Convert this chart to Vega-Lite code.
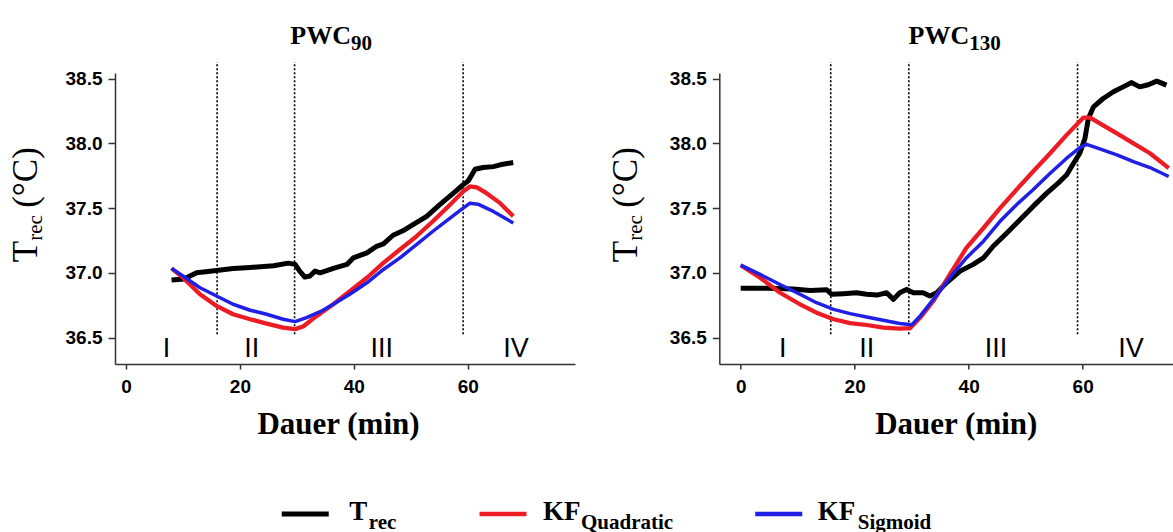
{
"$schema":"https://vega.github.io/schema/vega-lite/v6.json",
"autosize":{"type":"pad"},
"padding":{"left":9,"top":22,"right":0,"bottom":0},
"background":"white",
"spacing":54,
"datasets":{
"lines":[
{"panel":"PWC90","series":"T_rec","t":8.0,"temp":36.944},{"panel":"PWC90","series":"T_rec","t":9.8,"temp":36.95},{"panel":"PWC90","series":"T_rec","t":10.9,"temp":36.967},{"panel":"PWC90","series":"T_rec","t":12.4,"temp":37.0},{"panel":"PWC90","series":"T_rec","t":14.0,"temp":37.008},{"panel":"PWC90","series":"T_rec","t":15.9,"temp":37.018},{"panel":"PWC90","series":"T_rec","t":18.8,"temp":37.034},{"panel":"PWC90","series":"T_rec","t":21.8,"temp":37.041},{"panel":"PWC90","series":"T_rec","t":25.9,"temp":37.054},{"panel":"PWC90","series":"T_rec","t":28.5,"temp":37.075},{"panel":"PWC90","series":"T_rec","t":29.7,"temp":37.065},{"panel":"PWC90","series":"T_rec","t":30.5,"temp":37.013},{"panel":"PWC90","series":"T_rec","t":31.4,"temp":36.967},{"panel":"PWC90","series":"T_rec","t":32.3,"temp":36.975},{"panel":"PWC90","series":"T_rec","t":33.2,"temp":37.013},{"panel":"PWC90","series":"T_rec","t":34.1,"temp":37.0},{"panel":"PWC90","series":"T_rec","t":36.4,"temp":37.034},{"panel":"PWC90","series":"T_rec","t":38.8,"temp":37.065},{"panel":"PWC90","series":"T_rec","t":39.9,"temp":37.115},{"panel":"PWC90","series":"T_rec","t":42.3,"temp":37.154},{"panel":"PWC90","series":"T_rec","t":44.0,"temp":37.205},{"panel":"PWC90","series":"T_rec","t":45.2,"temp":37.223},{"panel":"PWC90","series":"T_rec","t":46.9,"temp":37.29},{"panel":"PWC90","series":"T_rec","t":48.7,"temp":37.326},{"panel":"PWC90","series":"T_rec","t":50.4,"temp":37.372},{"panel":"PWC90","series":"T_rec","t":52.8,"temp":37.436},{"panel":"PWC90","series":"T_rec","t":55.1,"temp":37.526},{"panel":"PWC90","series":"T_rec","t":57.5,"temp":37.615},{"panel":"PWC90","series":"T_rec","t":59.2,"temp":37.68},{"panel":"PWC90","series":"T_rec","t":60.1,"temp":37.71},{"panel":"PWC90","series":"T_rec","t":61.3,"temp":37.8},{"panel":"PWC90","series":"T_rec","t":62.7,"temp":37.813},{"panel":"PWC90","series":"T_rec","t":64.5,"temp":37.82},{"panel":"PWC90","series":"T_rec","t":65.7,"temp":37.834},{"panel":"PWC90","series":"T_rec","t":68.0,"temp":37.852},
{"panel":"PWC90","series":"KF_Quadratic","t":8.0,"temp":37.034},{"panel":"PWC90","series":"KF_Quadratic","t":10.0,"temp":36.962},{"panel":"PWC90","series":"KF_Quadratic","t":13.0,"temp":36.834},{"panel":"PWC90","series":"KF_Quadratic","t":15.9,"temp":36.744},{"panel":"PWC90","series":"KF_Quadratic","t":18.8,"temp":36.68},{"panel":"PWC90","series":"KF_Quadratic","t":21.8,"temp":36.641},{"panel":"PWC90","series":"KF_Quadratic","t":24.7,"temp":36.608},{"panel":"PWC90","series":"KF_Quadratic","t":27.6,"temp":36.577},{"panel":"PWC90","series":"KF_Quadratic","t":29.7,"temp":36.565},{"panel":"PWC90","series":"KF_Quadratic","t":31.1,"temp":36.585},{"panel":"PWC90","series":"KF_Quadratic","t":33.5,"temp":36.667},{"panel":"PWC90","series":"KF_Quadratic","t":36.4,"temp":36.757},{"panel":"PWC90","series":"KF_Quadratic","t":39.3,"temp":36.859},{"panel":"PWC90","series":"KF_Quadratic","t":42.3,"temp":36.962},{"panel":"PWC90","series":"KF_Quadratic","t":45.2,"temp":37.077},{"panel":"PWC90","series":"KF_Quadratic","t":48.1,"temp":37.18},{"panel":"PWC90","series":"KF_Quadratic","t":51.0,"temp":37.282},{"panel":"PWC90","series":"KF_Quadratic","t":53.9,"temp":37.398},{"panel":"PWC90","series":"KF_Quadratic","t":56.9,"temp":37.526},{"panel":"PWC90","series":"KF_Quadratic","t":59.2,"temp":37.628},{"panel":"PWC90","series":"KF_Quadratic","t":60.4,"temp":37.667},{"panel":"PWC90","series":"KF_Quadratic","t":61.6,"temp":37.66},{"panel":"PWC90","series":"KF_Quadratic","t":63.3,"temp":37.615},{"panel":"PWC90","series":"KF_Quadratic","t":65.7,"temp":37.538},{"panel":"PWC90","series":"KF_Quadratic","t":68.0,"temp":37.436},
{"panel":"PWC90","series":"KF_Sigmoid","t":8.0,"temp":37.034},{"panel":"PWC90","series":"KF_Sigmoid","t":10.0,"temp":36.975},{"panel":"PWC90","series":"KF_Sigmoid","t":13.0,"temp":36.885},{"panel":"PWC90","series":"KF_Sigmoid","t":15.9,"temp":36.821},{"panel":"PWC90","series":"KF_Sigmoid","t":18.8,"temp":36.757},{"panel":"PWC90","series":"KF_Sigmoid","t":21.8,"temp":36.711},{"panel":"PWC90","series":"KF_Sigmoid","t":24.7,"temp":36.68},{"panel":"PWC90","series":"KF_Sigmoid","t":27.6,"temp":36.641},{"panel":"PWC90","series":"KF_Sigmoid","t":29.7,"temp":36.623},{"panel":"PWC90","series":"KF_Sigmoid","t":31.7,"temp":36.654},{"panel":"PWC90","series":"KF_Sigmoid","t":34.1,"temp":36.7},{"panel":"PWC90","series":"KF_Sigmoid","t":36.4,"temp":36.757},{"panel":"PWC90","series":"KF_Sigmoid","t":39.3,"temp":36.834},{"panel":"PWC90","series":"KF_Sigmoid","t":42.3,"temp":36.923},{"panel":"PWC90","series":"KF_Sigmoid","t":45.2,"temp":37.026},{"panel":"PWC90","series":"KF_Sigmoid","t":48.1,"temp":37.115},{"panel":"PWC90","series":"KF_Sigmoid","t":51.0,"temp":37.218},{"panel":"PWC90","series":"KF_Sigmoid","t":53.9,"temp":37.321},{"panel":"PWC90","series":"KF_Sigmoid","t":56.9,"temp":37.423},{"panel":"PWC90","series":"KF_Sigmoid","t":59.2,"temp":37.5},{"panel":"PWC90","series":"KF_Sigmoid","t":60.4,"temp":37.538},{"panel":"PWC90","series":"KF_Sigmoid","t":61.8,"temp":37.53},{"panel":"PWC90","series":"KF_Sigmoid","t":64.5,"temp":37.474},{"panel":"PWC90","series":"KF_Sigmoid","t":68.0,"temp":37.385},
{"panel":"PWC130","series":"T_rec","t":0.0,"temp":36.88},{"panel":"PWC130","series":"T_rec","t":4.6,"temp":36.88},{"panel":"PWC130","series":"T_rec","t":9.2,"temp":36.875},{"panel":"PWC130","series":"T_rec","t":12.2,"temp":36.864},{"panel":"PWC130","series":"T_rec","t":15.1,"temp":36.869},{"panel":"PWC130","series":"T_rec","t":16.0,"temp":36.834},{"panel":"PWC130","series":"T_rec","t":18.0,"temp":36.839},{"panel":"PWC130","series":"T_rec","t":20.3,"temp":36.846},{"panel":"PWC130","series":"T_rec","t":22.1,"temp":36.834},{"panel":"PWC130","series":"T_rec","t":23.9,"temp":36.828},{"panel":"PWC130","series":"T_rec","t":25.6,"temp":36.846},{"panel":"PWC130","series":"T_rec","t":26.8,"temp":36.795},{"panel":"PWC130","series":"T_rec","t":27.9,"temp":36.846},{"panel":"PWC130","series":"T_rec","t":29.1,"temp":36.872},{"panel":"PWC130","series":"T_rec","t":30.3,"temp":36.846},{"panel":"PWC130","series":"T_rec","t":32.0,"temp":36.846},{"panel":"PWC130","series":"T_rec","t":33.2,"temp":36.821},{"panel":"PWC130","series":"T_rec","t":34.4,"temp":36.846},{"panel":"PWC130","series":"T_rec","t":36.1,"temp":36.923},{"panel":"PWC130","series":"T_rec","t":38.5,"temp":37.013},{"panel":"PWC130","series":"T_rec","t":40.8,"temp":37.065},{"panel":"PWC130","series":"T_rec","t":42.6,"temp":37.115},{"panel":"PWC130","series":"T_rec","t":44.3,"temp":37.205},{"panel":"PWC130","series":"T_rec","t":46.7,"temp":37.308},{"panel":"PWC130","series":"T_rec","t":49.0,"temp":37.41},{"panel":"PWC130","series":"T_rec","t":51.3,"temp":37.513},{"panel":"PWC130","series":"T_rec","t":53.7,"temp":37.615},{"panel":"PWC130","series":"T_rec","t":56.0,"temp":37.705},{"panel":"PWC130","series":"T_rec","t":57.2,"temp":37.757},{"panel":"PWC130","series":"T_rec","t":58.4,"temp":37.846},{"panel":"PWC130","series":"T_rec","t":59.5,"temp":37.923},{"panel":"PWC130","series":"T_rec","t":60.4,"temp":38.038},{"panel":"PWC130","series":"T_rec","t":61.0,"temp":38.192},{"panel":"PWC130","series":"T_rec","t":61.9,"temp":38.282},{"panel":"PWC130","series":"T_rec","t":63.6,"temp":38.346},{"panel":"PWC130","series":"T_rec","t":65.4,"temp":38.398},{"panel":"PWC130","series":"T_rec","t":67.1,"temp":38.436},{"panel":"PWC130","series":"T_rec","t":68.6,"temp":38.469},{"panel":"PWC130","series":"T_rec","t":70.0,"temp":38.436},{"panel":"PWC130","series":"T_rec","t":71.5,"temp":38.452},{"panel":"PWC130","series":"T_rec","t":73.0,"temp":38.48},{"panel":"PWC130","series":"T_rec","t":74.7,"temp":38.449},
{"panel":"PWC130","series":"KF_Quadratic","t":0.0,"temp":37.059},{"panel":"PWC130","series":"KF_Quadratic","t":3.4,"temp":36.962},{"panel":"PWC130","series":"KF_Quadratic","t":6.9,"temp":36.846},{"panel":"PWC130","series":"KF_Quadratic","t":10.4,"temp":36.757},{"panel":"PWC130","series":"KF_Quadratic","t":13.3,"temp":36.692},{"panel":"PWC130","series":"KF_Quadratic","t":16.3,"temp":36.641},{"panel":"PWC130","series":"KF_Quadratic","t":19.2,"temp":36.611},{"panel":"PWC130","series":"KF_Quadratic","t":22.1,"temp":36.597},{"panel":"PWC130","series":"KF_Quadratic","t":25.0,"temp":36.577},{"panel":"PWC130","series":"KF_Quadratic","t":27.9,"temp":36.569},{"panel":"PWC130","series":"KF_Quadratic","t":29.7,"temp":36.572},{"panel":"PWC130","series":"KF_Quadratic","t":31.5,"temp":36.654},{"panel":"PWC130","series":"KF_Quadratic","t":33.8,"temp":36.782},{"panel":"PWC130","series":"KF_Quadratic","t":36.7,"temp":36.988},{"panel":"PWC130","series":"KF_Quadratic","t":39.6,"temp":37.192},{"panel":"PWC130","series":"KF_Quadratic","t":42.6,"temp":37.346},{"panel":"PWC130","series":"KF_Quadratic","t":45.5,"temp":37.5},{"panel":"PWC130","series":"KF_Quadratic","t":48.4,"temp":37.642},{"panel":"PWC130","series":"KF_Quadratic","t":51.3,"temp":37.782},{"panel":"PWC130","series":"KF_Quadratic","t":54.3,"temp":37.923},{"panel":"PWC130","series":"KF_Quadratic","t":57.2,"temp":38.065},{"panel":"PWC130","series":"KF_Quadratic","t":60.1,"temp":38.198},{"panel":"PWC130","series":"KF_Quadratic","t":61.3,"temp":38.198},{"panel":"PWC130","series":"KF_Quadratic","t":63.0,"temp":38.154},{"panel":"PWC130","series":"KF_Quadratic","t":66.0,"temp":38.077},{"panel":"PWC130","series":"KF_Quadratic","t":68.9,"temp":38.0},{"panel":"PWC130","series":"KF_Quadratic","t":71.8,"temp":37.923},{"panel":"PWC130","series":"KF_Quadratic","t":75.1,"temp":37.808},
{"panel":"PWC130","series":"KF_Sigmoid","t":0.0,"temp":37.059},{"panel":"PWC130","series":"KF_Sigmoid","t":3.4,"temp":36.988},{"panel":"PWC130","series":"KF_Sigmoid","t":6.9,"temp":36.91},{"panel":"PWC130","series":"KF_Sigmoid","t":10.4,"temp":36.834},{"panel":"PWC130","series":"KF_Sigmoid","t":13.3,"temp":36.769},{"panel":"PWC130","series":"KF_Sigmoid","t":16.3,"temp":36.718},{"panel":"PWC130","series":"KF_Sigmoid","t":19.2,"temp":36.685},{"panel":"PWC130","series":"KF_Sigmoid","t":22.1,"temp":36.659},{"panel":"PWC130","series":"KF_Sigmoid","t":25.0,"temp":36.634},{"panel":"PWC130","series":"KF_Sigmoid","t":27.9,"temp":36.608},{"panel":"PWC130","series":"KF_Sigmoid","t":30.0,"temp":36.598},{"panel":"PWC130","series":"KF_Sigmoid","t":31.5,"temp":36.667},{"panel":"PWC130","series":"KF_Sigmoid","t":33.8,"temp":36.795},{"panel":"PWC130","series":"KF_Sigmoid","t":36.7,"temp":36.962},{"panel":"PWC130","series":"KF_Sigmoid","t":39.6,"temp":37.115},{"panel":"PWC130","series":"KF_Sigmoid","t":42.6,"temp":37.244},{"panel":"PWC130","series":"KF_Sigmoid","t":45.5,"temp":37.398},{"panel":"PWC130","series":"KF_Sigmoid","t":48.4,"temp":37.526},{"panel":"PWC130","series":"KF_Sigmoid","t":51.3,"temp":37.642},{"panel":"PWC130","series":"KF_Sigmoid","t":54.3,"temp":37.769},{"panel":"PWC130","series":"KF_Sigmoid","t":57.2,"temp":37.885},{"panel":"PWC130","series":"KF_Sigmoid","t":59.5,"temp":37.967},{"panel":"PWC130","series":"KF_Sigmoid","t":60.7,"temp":37.992},{"panel":"PWC130","series":"KF_Sigmoid","t":63.0,"temp":37.957},{"panel":"PWC130","series":"KF_Sigmoid","t":66.0,"temp":37.911},{"panel":"PWC130","series":"KF_Sigmoid","t":68.9,"temp":37.859},{"panel":"PWC130","series":"KF_Sigmoid","t":71.8,"temp":37.813},{"panel":"PWC130","series":"KF_Sigmoid","t":75.1,"temp":37.744}
],
"bounds":[
{"panel":"PWC90","t":16.0},{"panel":"PWC90","t":29.6},{"panel":"PWC90","t":59.2},
{"panel":"PWC130","t":15.8},{"panel":"PWC130","t":29.5},{"panel":"PWC130","t":59.1}
],
"phases":[
{"panel":"PWC90","label":"I","t":7.1},{"panel":"PWC90","label":"II","t":22.1},{"panel":"PWC90","label":"III","t":44.9},{"panel":"PWC90","label":"IV","t":68.5},
{"panel":"PWC130","label":"I","t":7.4},{"panel":"PWC130","label":"II","t":22.1},{"panel":"PWC130","label":"III","t":44.8},{"panel":"PWC130","label":"IV","t":68.5}
],
"titles":[
{"panel":"PWC90","main":"PWC","sub":"90"},
{"panel":"PWC130","main":"PWC","sub":"130"}
],
"ytitle":[
{"main":"T","sub":"rec","unit":"(°C)"}
],
"legend":[
{"series":"T_rec","main":"T","sub":"rec"},
{"series":"KF_Quadratic","main":"KF","sub":"Quadratic"},
{"series":"KF_Sigmoid","main":"KF","sub":"Sigmoid"}
]
},
"vconcat":[
{"hconcat":[
{"width":460,"height":291.1,
"layer":[
{"data":{"name":"bounds"},"transform":[{"filter":"datum.panel === 'PWC90'"}],
"mark":{"type":"rule","strokeDash":[2,2],"strokeWidth":1.6,"color":"#000"},
"encoding":{"x":{"field":"t","type":"quantitative","title":"Dauer (min)"},"y":{"datum":36.526,"type":"quantitative"},"y2":{"datum":38.628}}},
{"data":{"name":"lines"},"transform":[{"filter":"datum.panel === 'PWC90'"}],
"mark":{"type":"line","strokeJoin":"round","strokeCap":"butt"},
"encoding":{
"x":{"field":"t","type":"quantitative","title":"Dauer (min)","scale":{"domain":[-1.93,78.84],"nice":false,"zero":false},"axis":{"values":[0,20,40,60],"titleX":223}},
"y":{"field":"temp","type":"quantitative","title":null,"scale":{"domain":[36.295,38.543],"nice":false,"zero":false},"axis":{"values":[36.5,37,37.5,38,38.5],"format":".1f"}},
"color":{"field":"series","type":"nominal","scale":{"domain":["T_rec","KF_Quadratic","KF_Sigmoid"],"range":["#000000","#ed1c24","#1f1fe6"]},"legend":null},
"strokeWidth":{"field":"series","type":"nominal","scale":{"domain":["T_rec","KF_Quadratic","KF_Sigmoid"],"range":[5,3.5,3.5]},"legend":null}}},
{"data":{"name":"phases"},"transform":[{"filter":"datum.panel === 'PWC90'"}],
"mark":{"type":"text","font":"Liberation Sans","fontSize":27,"align":"center","baseline":"alphabetic","color":"#000"},
"encoding":{"x":{"field":"t","type":"quantitative","title":"Dauer (min)"},"y":{"datum":36.346,"type":"quantitative"},"text":{"field":"label"}}},
{"data":{"name":"titles"},"transform":[{"filter":"datum.panel === 'PWC90'"}],
"mark":{"type":"text","font":"Liberation Serif","fontWeight":"bold","fontSize":26,"align":"right","baseline":"alphabetic","color":"#000"},
"encoding":{"x":{"datum":39.5,"type":"quantitative"},"y":{"datum":38.77,"type":"quantitative"},"text":{"field":"main"}}},
{"data":{"name":"titles"},"transform":[{"filter":"datum.panel === 'PWC90'"}],
"mark":{"type":"text","font":"Liberation Serif","fontWeight":"bold","fontSize":21,"align":"left","baseline":"alphabetic","dy":6,"color":"#000"},
"encoding":{"x":{"datum":39.5,"type":"quantitative"},"y":{"datum":38.77,"type":"quantitative"},"text":{"field":"sub"}}},
{"data":{"name":"ytitle"},
"mark":{"type":"text","font":"Liberation Serif","fontSize":35,"align":"right","baseline":"alphabetic","angle":270,"color":"#000"},
"encoding":{"x":{"datum":-15.58,"type":"quantitative"},"y":{"datum":37.247,"type":"quantitative"},"text":{"field":"main"}}},
{"data":{"name":"ytitle"},
"mark":{"type":"text","font":"Liberation Serif","fontSize":21,"align":"left","baseline":"alphabetic","angle":270,"dy":5,"color":"#000"},
"encoding":{"x":{"datum":-15.58,"type":"quantitative"},"y":{"datum":37.247,"type":"quantitative"},"text":{"field":"sub"}}},
{"data":{"name":"ytitle"},
"mark":{"type":"text","font":"Liberation Serif","fontSize":35,"align":"left","baseline":"alphabetic","angle":270,"dx":33,"color":"#000"},
"encoding":{"x":{"datum":-15.58,"type":"quantitative"},"y":{"datum":37.247,"type":"quantitative"},"text":{"field":"unit"}}}
]},
{"width":454,"height":291.1,
"layer":[
{"data":{"name":"bounds"},"transform":[{"filter":"datum.panel === 'PWC130'"}],
"mark":{"type":"rule","strokeDash":[2,2],"strokeWidth":1.6,"color":"#000"},
"encoding":{"x":{"field":"t","type":"quantitative","title":"Dauer (min)"},"y":{"datum":36.526,"type":"quantitative"},"y2":{"datum":38.628}}},
{"data":{"name":"lines"},"transform":[{"filter":"datum.panel === 'PWC130'"}],
"mark":{"type":"line","strokeJoin":"round","strokeCap":"butt"},
"encoding":{
"x":{"field":"t","type":"quantitative","title":"Dauer (min)","scale":{"domain":[-3.75,75.9],"nice":false,"zero":false},"axis":{"values":[0,20,40,60],"titleX":236.5}},
"y":{"field":"temp","type":"quantitative","title":null,"scale":{"domain":[36.295,38.543],"nice":false,"zero":false},"axis":{"values":[36.5,37,37.5,38,38.5],"format":".1f"}},
"color":{"field":"series","type":"nominal","scale":{"domain":["T_rec","KF_Quadratic","KF_Sigmoid"],"range":["#000000","#ed1c24","#1f1fe6"]},"legend":null},
"strokeWidth":{"field":"series","type":"nominal","scale":{"domain":["T_rec","KF_Quadratic","KF_Sigmoid"],"range":[5,3.5,3.5]},"legend":null}}},
{"data":{"name":"phases"},"transform":[{"filter":"datum.panel === 'PWC130'"}],
"mark":{"type":"text","font":"Liberation Sans","fontSize":27,"align":"center","baseline":"alphabetic","color":"#000"},
"encoding":{"x":{"field":"t","type":"quantitative","title":"Dauer (min)"},"y":{"datum":36.346,"type":"quantitative"},"text":{"field":"label"}}},
{"data":{"name":"titles"},"transform":[{"filter":"datum.panel === 'PWC130'"}],
"mark":{"type":"text","font":"Liberation Serif","fontWeight":"bold","fontSize":26,"align":"right","baseline":"alphabetic","color":"#000"},
"encoding":{"x":{"datum":40.1,"type":"quantitative"},"y":{"datum":38.77,"type":"quantitative"},"text":{"field":"main"}}},
{"data":{"name":"titles"},"transform":[{"filter":"datum.panel === 'PWC130'"}],
"mark":{"type":"text","font":"Liberation Serif","fontWeight":"bold","fontSize":21,"align":"left","baseline":"alphabetic","dy":6,"color":"#000"},
"encoding":{"x":{"datum":40.1,"type":"quantitative"},"y":{"datum":38.77,"type":"quantitative"},"text":{"field":"sub"}}},
{"data":{"name":"ytitle"},
"mark":{"type":"text","font":"Liberation Serif","fontSize":35,"align":"right","baseline":"alphabetic","angle":270,"color":"#000"},
"encoding":{"x":{"datum":-18.14,"type":"quantitative"},"y":{"datum":37.247,"type":"quantitative"},"text":{"field":"main"}}},
{"data":{"name":"ytitle"},
"mark":{"type":"text","font":"Liberation Serif","fontSize":21,"align":"left","baseline":"alphabetic","angle":270,"dy":5,"color":"#000"},
"encoding":{"x":{"datum":-18.14,"type":"quantitative"},"y":{"datum":37.247,"type":"quantitative"},"text":{"field":"sub"}}},
{"data":{"name":"ytitle"},
"mark":{"type":"text","font":"Liberation Serif","fontSize":35,"align":"left","baseline":"alphabetic","angle":270,"dx":33,"color":"#000"},
"encoding":{"x":{"datum":-18.14,"type":"quantitative"},"y":{"datum":37.247,"type":"quantitative"},"text":{"field":"unit"}}}
]}
],"spacing":144.3,"bounds":"flush"},
{"width":937,"height":40,
"data":{"name":"legend"},
"encoding":{"x":{"field":"series","type":"nominal","scale":{"type":"point","domain":["T_rec","KF_Quadratic","KF_Sigmoid"],"padding":1.0238},"axis":null}},
"layer":[
{"transform":[{"filter":"datum.series === 'T_rec'"}],"layer":[
{"mark":{"type":"point","shape":"M-1,0L1,0","size":2209,"filled":false,"color":"#000000","strokeWidth":5,"opacity":1,"xOffset":-44}},
{"mark":{"type":"text","align":"left","baseline":"alphabetic","dy":6,"font":"Liberation Serif","fontWeight":"bold","fontSize":27,"color":"#000"},"encoding":{"text":{"field":"main"}}},
{"mark":{"type":"text","align":"left","baseline":"alphabetic","dy":15.3,"dx":19.5,"font":"Liberation Serif","fontWeight":"bold","fontSize":21,"color":"#000"},"encoding":{"text":{"field":"sub"}}}
]},
{"transform":[{"filter":"datum.series === 'KF_Quadratic'"}],"layer":[
{"mark":{"type":"point","shape":"M-1,0L1,0","size":2209,"filled":false,"color":"#ed1c24","strokeWidth":4.5,"opacity":1,"xOffset":-80.5}},
{"mark":{"type":"text","align":"left","baseline":"alphabetic","dy":6,"dx":-40.5,"font":"Liberation Serif","fontWeight":"bold","fontSize":27,"color":"#000"},"encoding":{"text":{"field":"main"}}},
{"mark":{"type":"text","align":"left","baseline":"alphabetic","dy":15.3,"dx":-2.5,"font":"Liberation Serif","fontWeight":"bold","fontSize":21,"color":"#000"},"encoding":{"text":{"field":"sub"}}}
]},
{"transform":[{"filter":"datum.series === 'KF_Sigmoid'"}],"layer":[
{"mark":{"type":"point","shape":"M-1,0L1,0","size":2209,"filled":false,"color":"#1f1fe6","strokeWidth":4.5,"opacity":1,"xOffset":-39}},
{"mark":{"type":"text","align":"left","baseline":"alphabetic","dy":6,"font":"Liberation Serif","fontWeight":"bold","fontSize":27,"color":"#000"},"encoding":{"text":{"field":"main"}}},
{"mark":{"type":"text","align":"left","baseline":"alphabetic","dy":15.3,"dx":40,"font":"Liberation Serif","fontWeight":"bold","fontSize":21,"color":"#000"},"encoding":{"text":{"field":"sub"}}}
]}
]}
],
"config":{
"view":{"stroke":null},
"axis":{"grid":false,"domainColor":"#333333","domainWidth":1.5,"tickColor":"#333333","tickWidth":1.5,"labelFont":"Liberation Sans","labelFontWeight":"bold","labelFontSize":19,"labelColor":"#000000","labelFlush":false},
"axisX":{"tickSize":5,"labelPadding":8,"titleFont":"Liberation Serif","titleFontSize":31,"titleFontWeight":"bold","titleColor":"#000000","titleBaseline":"alphabetic","titleY":69.4,"titleAlign":"center"},
"axisY":{"tickSize":7,"labelPadding":6}
}
}
